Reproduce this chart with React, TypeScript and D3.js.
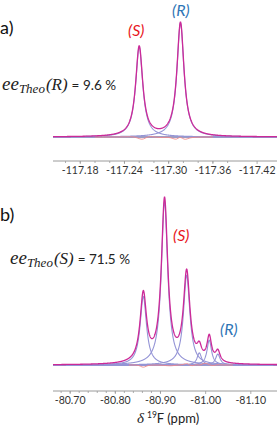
import React from 'react';
import * as d3 from 'd3';

// panel a: fitted Lorentzian lines (S, R)
const A_PPM = [-117.26, -117.316];
const A_HEIGHT = [79, 100];
const A_HALFWIDTH = [0.0058, 0.0058];
const A_RESIDUAL: [number, number][] = [
  [-117.2, 0], [-117.24, 0], [-117.252, 0.5], [-117.258, -1], [-117.264, -2.4],
  [-117.268, -1], [-117.274, 0.7], [-117.28, 0], [-117.29, -0.6], [-117.3, 0],
  [-117.306, -1.4], [-117.311, -2.4], [-117.315, 0.4], [-117.319, -1.4],
  [-117.323, -2.4], [-117.327, -1], [-117.335, 0], [-117.36, 0],
];
const A_TICKS = [-117.18, -117.24, -117.3, -117.36, -117.42];

// panel b: S triplet then R triplet
const B_PPM = [-80.862, -80.909, -80.958, -80.986, -81.008, -81.027];
const B_HEIGHT = [42, 100, 55, 7.4, 15.3, 6.7];
const B_HALFWIDTH = [0.0085, 0.0085, 0.0085, 0.006, 0.006, 0.006];
const B_RESIDUAL: [number, number][] = [
  [-80.83, 0], [-80.85, 0], [-80.856, -0.8], [-80.862, -1.6], [-80.868, -0.8],
  [-80.875, 0], [-80.9, 0], [-80.92, -0.6], [-80.93, -0.3], [-80.94, 0],
  [-80.952, 0.3], [-80.958, 1.3], [-80.964, 0], [-80.972, -0.7], [-80.98, 0.6],
  [-80.986, -0.5], [-80.993, 0.8], [-81.0, 1.2], [-81.008, 0.2], [-81.016, -0.6],
  [-81.025, 0.3], [-81.035, 0], [-81.06, 0],
];
const B_TICKS = [-80.7, -80.8, -80.9, -81.0, -81.1];

const SUM_COLOR = '#cc2a98';
const COMP_COLOR = '#9494d6';
const RES_COLOR = '#f08a8a';
const TEXT_FONT = 'Lato, "Open Sans", sans-serif';
const SERIF = '"Liberation Serif", "DejaVu Serif", serif';

const lorentz = (x: number, c: number, h: number, w: number) => h / (1 + ((x - c) / w) ** 2);

interface PanelProps {
  domain: [number, number];
  yBase: number;
  yTop: number;
  axisY: number;
  ppm: number[];
  height: number[];
  halfWidth: number[];
  residual: [number, number][];
  ticks: number[];
  minorStep: number;
}

const Panel: React.FC<PanelProps> = ({ domain, yBase, yTop, axisY, ppm, height, halfWidth, residual, ticks, minorStep }) => {
  const x = d3.scaleLinear().domain(domain).range([53, 277]);
  const y = d3.scaleLinear().domain([0, 100]).range([yBase, yTop]);
  const grid = d3.range(domain[0], domain[1], -0.0004).concat([domain[1]]);

  const line = d3.line<[number, number]>().x(d => x(d[0])).y(d => y(d[1]));
  const comps = ppm.map((c, i) => grid.map(g => [g, lorentz(g, c, height[i], halfWidth[i])] as [number, number]));
  const sum = grid.map(g => [g, d3.sum(ppm, (c, i) => lorentz(g, c, height[i], halfWidth[i]))] as [number, number]);
  const resLine = d3.line<[number, number]>().x(d => x(d[0])).y(d => y(d[1])).curve(d3.curveBasis);

  const minor = d3.range(0, 40).map(k => ticks[0] + (k - 10) * minorStep).filter(v => v <= domain[0] && v >= domain[1]);

  return (
    <g>
      <line x1={53} x2={277} y1={y(0)} y2={y(0)} stroke="#3b3b8c" strokeWidth={1} />
      {comps.map((c, i) => (
        <path key={i} d={line(c) || ''} fill="none" stroke={COMP_COLOR} strokeWidth={1.1} />
      ))}
      <path d={resLine(residual) || ''} fill="none" stroke={RES_COLOR} strokeWidth={0.9} />
      <path d={line(sum) || ''} fill="none" stroke={SUM_COLOR} strokeWidth={1.3} />
      <line x1={53} x2={277} y1={axisY} y2={axisY} stroke="#9a9a9a" strokeWidth={1} />
      {minor.map((v, i) => (
        <line key={i} x1={x(v)} x2={x(v)} y1={axisY} y2={axisY + 2} stroke="#9a9a9a" strokeWidth={0.8} />
      ))}
      {ticks.map(v => (
        <g key={v}>
          <line x1={x(v)} x2={x(v)} y1={axisY} y2={axisY + 3} stroke="#9a9a9a" strokeWidth={0.8} />
          <text x={x(v)} y={axisY + 13} textAnchor="middle" fontSize={10.5} fill="#333" fontFamily={TEXT_FONT}>
            {v.toFixed(2)}
          </text>
        </g>
      ))}
    </g>
  );
};

const EeLabel: React.FC<{ y: number; x0: number; sel: string; value: string }> = ({ y, x0, sel, value }) => (
  <text x={x0} y={y} fill="#222" fontFamily={SERIF} fontStyle="italic" fontSize={19}>
    <tspan>ee</tspan>
    <tspan fontSize={13} dy={3}>Theo</tspan>
    <tspan fontSize={17} dy={-3} dx={1}>({sel})</tspan>
    <tspan fontFamily={TEXT_FONT} fontStyle="normal" fontSize={13.5} dx={4}>{value}</tspan>
  </text>
);

const App: React.FC = () => {
  return (
    <svg width={278} height={428} style={{ position: 'absolute', left: 0, top: 0, background: '#fff' }}>
      <text x={0} y={34} fontSize={18} fontFamily={TEXT_FONT} fill="#111">a)</text>
      <text x={0} y={221} fontSize={18} fontFamily={TEXT_FONT} fill="#111">b)</text>

      <Panel domain={[-117.143, -117.447]} yBase={137} yTop={23} axisY={161}
        ppm={A_PPM} height={A_HEIGHT} halfWidth={A_HALFWIDTH} residual={A_RESIDUAL}
        ticks={A_TICKS} minorStep={0.02} />
      <Panel domain={[-80.662, -81.158]} yBase={365} yTop={202} axisY={391}
        ppm={B_PPM} height={B_HEIGHT} halfWidth={B_HALFWIDTH} residual={B_RESIDUAL}
        ticks={B_TICKS} minorStep={0.02} />

      <text x={128} y={36} fontSize={16} fontStyle="italic" fontFamily={TEXT_FONT} fill="#e8141c">(S)</text>
      <text x={172} y={16} fontSize={16} fontStyle="italic" fontFamily={TEXT_FONT} fill="#2e75b6">(R)</text>
      <text x={173} y={241} fontSize={16} fontStyle="italic" fontFamily={TEXT_FONT} fill="#e8141c">(S)</text>
      <text x={220} y={335} fontSize={16} fontStyle="italic" fontFamily={TEXT_FONT} fill="#2e75b6">(R)</text>

      <EeLabel y={90} x0={2} sel="R" value="= 9.6 %" />
      <EeLabel y={264} x0={10} sel="S" value="= 71.5 %" />

      <text x={137} y={423} fontSize={13} fontFamily={TEXT_FONT} fill="#222">
        <tspan fontFamily={SERIF} fontStyle="italic" fontSize={15}>δ</tspan>
        <tspan dx={3} fontSize={8.5} dy={-5}>19</tspan>
        <tspan dy={5}>F (ppm)</tspan>
      </text>
    </svg>
  );
};

export default App;
